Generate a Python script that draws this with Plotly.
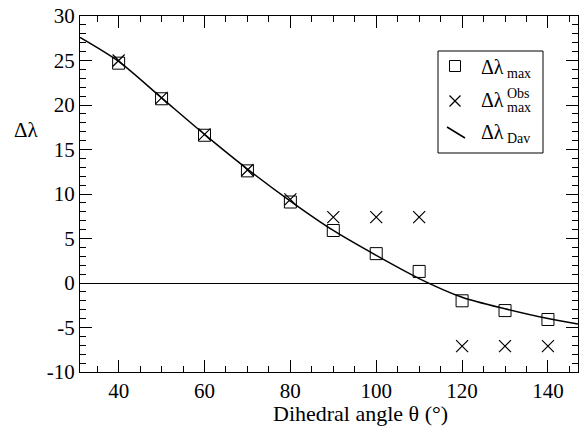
import plotly.graph_objects as go

# ---- data ----
theta = [40, 50, 60, 70, 80, 90, 100, 110, 120, 130, 140]
dl_max = [24.7, 20.7, 16.6, 12.6, 9.1, 5.9, 3.3, 1.3, -2.0, -3.1, -4.1]
theta_obs = [40, 50, 60, 70, 80, 90, 100, 110, 120, 130, 140]
dl_obs = [25.0, 20.8, 16.7, 12.7, 9.4, 7.4, 7.4, 7.4, -7.1, -7.1, -7.1]
theta_dav = [31, 40, 50, 60, 70, 80, 90, 100, 110, 120, 130, 140, 147]
dl_dav = [27.6, 24.9, 20.8, 16.7, 12.8, 9.2, 5.9, 3.1, 0.5, -1.6, -2.9, -4.0, -4.6]

x_ticks = [40, 60, 80, 100, 120, 140]
y_ticks = [-10, -5, 0, 5, 10, 15, 20, 25, 30]
y_ticktext = ["-10", "-5", "0", "5", "10", "15", "20", "25", "30"]

FONT = "Liberation Serif"
W, H = 581, 437
L, R, T, B = 80, 3, 16, 65
pw, ph = W - L - R, H - T - B


def px(x):
    return (x - L) / pw


def py(y):
    return (H - B - y) / ph


fig = go.Figure()
fig.add_trace(go.Scatter(x=theta_dav, y=dl_dav, mode="lines",
                         line=dict(color="black", width=1.5, shape="spline", smoothing=0.8),
                         showlegend=False, name="Δλ_Dav"))
fig.add_trace(go.Scatter(x=theta, y=dl_max, mode="markers",
                         marker=dict(symbol="square-open", size=12, color="black", line=dict(width=1)),
                         showlegend=False, name="Δλ_max"))
fig.add_trace(go.Scatter(x=theta_obs, y=dl_obs, mode="markers",
                         marker=dict(symbol="x-thin-open", size=12, color="black", line=dict(width=1.2, color="black")),
                         showlegend=False, name="Δλ_max^Obs"))

axis_common = dict(showline=True, linecolor="black", linewidth=1, mirror="ticks",
                   ticks="inside", tickcolor="black", ticklen=12, tickwidth=1,
                   showgrid=False, automargin=False,
                   tickfont=dict(family=FONT, size=21, color="black"))

fig.update_xaxes(range=[31, 147], tickvals=x_ticks, zeroline=False,
                 minor=dict(ticks="inside", ticklen=6, dtick=5, tick0=0, tickcolor="black", showgrid=False),
                 **axis_common)
fig.update_yaxes(range=[-10, 30], tickvals=y_ticks, ticktext=y_ticktext,
                 zeroline=True, zerolinecolor="black", zerolinewidth=1,
                 minor=dict(ticks="inside", ticklen=6, dtick=1, tick0=0, tickcolor="black", showgrid=False),
                 **axis_common)

lf = dict(family=FONT, size=20, color="black")
sf = dict(family=FONT, size=14, color="black")

# axis titles
annotations = [
    dict(x=px(26), y=py(130), xref="paper", yref="paper", text="Δλ", showarrow=False,
         xanchor="center", yanchor="middle", font=dict(family=FONT, size=21, color="black")),
    dict(x=px(360), y=py(413), xref="paper", yref="paper", text="Dihedral angle θ (°)", showarrow=False,
         xanchor="center", yanchor="middle", font=dict(family=FONT, size=22, color="black")),
]

# manual legend
shapes = [dict(type="rect", xref="paper", yref="paper", x0=px(438), x1=px(543), y0=py(153), y1=py(51),
               line=dict(color="black", width=1), fillcolor="white", layer="above")]
shapes.append(dict(type="rect", xref="paper", yref="paper", x0=px(449.5), x1=px(460.5), y0=py(71.5), y1=py(60.5),
                   line=dict(color="black", width=1)))
shapes.append(dict(type="line", xref="paper", yref="paper", x0=px(449.5), x1=px(460.5), y0=py(95.5), y1=py(106.5),
                   line=dict(color="black", width=1.2)))
shapes.append(dict(type="line", xref="paper", yref="paper", x0=px(449.5), x1=px(460.5), y0=py(106.5), y1=py(95.5),
                   line=dict(color="black", width=1.2)))
shapes.append(dict(type="line", xref="paper", yref="paper", x0=px(447), x1=px(465), y0=py(127), y1=py(138),
                   line=dict(color="black", width=1.5)))


def ann(x, y, text, font):
    return dict(x=px(x), y=py(y), xref="paper", yref="paper", xanchor="left", yanchor="middle",
                text=text, showarrow=False, font=font)


annotations += [
    ann(479, 67, "Δλ", lf), ann(505, 74, "max", sf),
    ann(479, 100, "Δλ", lf), ann(505, 93, "Obs", sf), ann(505, 107, "max", sf),
    ann(479, 132, "Δλ", lf), ann(505, 138, "Dav", sf),
]

fig.update_layout(width=W, height=H, margin=dict(l=L, r=R, t=T, b=B),
                  paper_bgcolor="white", plot_bgcolor="white",
                  showlegend=False, shapes=shapes, annotations=annotations,
                  font=dict(family=FONT, color="black"))

fig.write_html("out.html", config={"displayModeBar": False},
               post_script="document.body.style.margin='0';document.body.style.overflow='hidden';")
